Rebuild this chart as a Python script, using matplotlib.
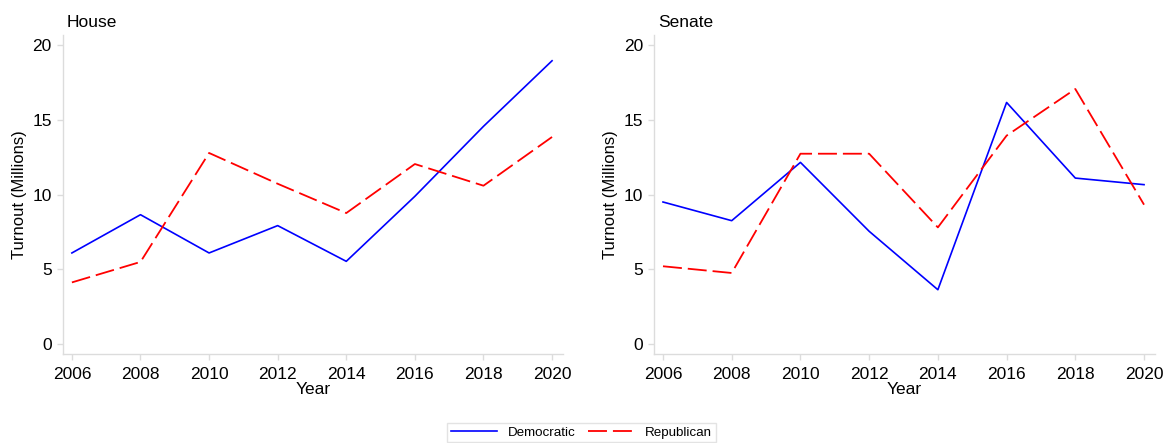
import matplotlib.pyplot as plt

plt.rcParams['font.family'] = ['Liberation Sans', 'DejaVu Sans']

# Turnout in millions by election year
years = [2006, 2008, 2010, 2012, 2014, 2016, 2018, 2020]
house_dem = [6.09, 8.65, 6.09, 7.92, 5.53, 9.88, 14.56, 18.95]
house_rep = [4.12, 5.49, 12.78, 10.72, 8.76, 12.04, 10.59, 13.85]
senate_dem = [9.50, 8.25, 12.15, 7.54, 3.63, 16.16, 11.10, 10.66]
senate_rep = [5.20, 4.75, 12.73, 12.73, 7.80, 13.94, 17.06, 9.32]

panels = [("House", house_dem, house_rep), ("Senate", senate_dem, senate_rep)]

fig = plt.figure(figsize=(11.64, 4.43), dpi=100)
positions = [[0.0541, 0.2009, 0.4296, 0.720], [0.5619, 0.2009, 0.4304, 0.720]]
axis_grey = '#dcdcdc'

for pos, (name, dem, rep) in zip(positions, panels):
    ax = fig.add_axes(pos)
    ax.plot(years, dem, color='blue', lw=1.2, label='Democratic')
    ax.plot(years, rep, color='red', lw=1.3, linestyle=(0, (10.5, 3.3)), label='Republican')
    ax.set_xlim(2005.74, 2020.32)
    ax.set_ylim(-0.67, 20.67)
    ax.set_xticks(years)
    ax.set_yticks([0, 5, 10, 15, 20])
    ax.tick_params(labelsize=12.5, color=axis_grey, length=4.5, width=1)
    ax.tick_params(axis='x', pad=4.5)
    ax.tick_params(axis='y', pad=3.5)
    for side in ['top', 'right']:
        ax.spines[side].set_visible(False)
    for side in ['left', 'bottom']:
        ax.spines[side].set_color(axis_grey)
        ax.spines[side].set_linewidth(1)
    ax.set_xlabel('Year', fontsize=12.5, labelpad=0)
    ax.set_ylabel('Turnout (Millions)', fontsize=12, labelpad=4)
    ax.set_title(name, loc='left', fontsize=12.5, pad=6, x=0.008)
    handles, labels = ax.get_legend_handles_labels()

fig.legend(handles, labels, loc='upper center', bbox_to_anchor=(0.4995, 0.045),
           borderaxespad=0, ncol=2, fontsize=9.6, frameon=True, fancybox=False,
           edgecolor=axis_grey, handlelength=3.45, handletextpad=0.83,
           columnspacing=0.95, borderpad=0.25)

fig.savefig('out.png', dpi=100)
